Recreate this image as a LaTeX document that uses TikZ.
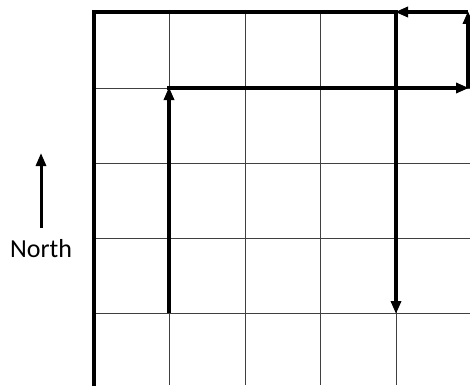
\documentclass[tikz,border=0pt]{standalone}
\usepackage{fontspec}
\setmainfont{Carlito}
\usetikzlibrary{arrows.meta}
\begin{document}
\begin{tikzpicture}[x=1pt,y=-1pt,
  gridline/.style={black!75,line width=0.8pt},
  border/.style={black,line width=3.2pt,line cap=rect},
  route/.style={black,line width=3.4pt,-{Triangle[length=13pt,width=10pt]},shorten >=-1pt},
  label/.style={font=\fontsize{26}{30}\selectfont,anchor=base}]
\useasboundingbox[fill=white] (0,0) rectangle (470,385);
% grid
\foreach \x in {169,245,320,396} \draw[gridline] (\x,12) -- (\x,385);
\foreach \y in {88,163,238,313} \draw[gridline] (94,\y) -- (470,\y);
% borders
\coordinate (TL) at (94,12);
\coordinate (BL) at (94,385);
\coordinate (TR) at (396,12);
\draw[border] (BL) -- (TL) -- (TR);
% route points
\coordinate (A) at (169,313);
\coordinate (B) at (169,88);
\coordinate (C) at (468,88);
\coordinate (D) at (468,12);
\coordinate (E) at (396,12);
\coordinate (F) at (396,313);
\draw[route] (A) -- (B);
\draw[route,shorten <=-1.7pt] (B) -- (C);
\draw[route] (C) -- (D);
\draw[route] (D) -- (E);
\draw[route,shorten <=-1.6pt] (E) -- (F);
% north
\coordinate (N0) at (41,228);
\coordinate (N1) at (41,154);
\draw[route,line width=3pt] (N0) -- (N1);
\node[label] (north) at (41,257) {North};
\end{tikzpicture}
\end{document}
